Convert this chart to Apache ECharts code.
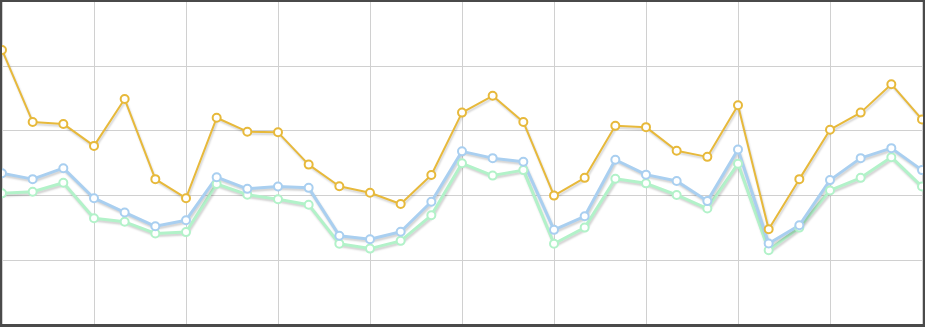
<!DOCTYPE html>
<html>
<head>
<meta charset="utf-8">
<script src="https://cdn.jsdelivr.net/npm/echarts@6/dist/echarts.min.js"></script>
<style>
html,body{margin:0;padding:0;background:#fff;}
#wrap{position:relative;width:925px;height:327px;}
#chart{position:absolute;left:0;top:0;width:925px;height:327px;}
#frame{position:absolute;left:0;top:0;width:925px;height:327px;box-sizing:border-box;border-style:solid;border-color:#4a4a4a;border-width:2px 2px 3px 2px;pointer-events:none;}
</style>
</head>
<body>
<div id="wrap"><div id="chart"></div><div id="frame"></div></div>
<script>
var categories = [];
for (var i = 1; i <= 31; i++) categories.push(String(i));

var seriesOrange = [85.0,62.7,62.1,55.3,69.8,45.0,39.1,64.0,59.7,59.5,49.5,42.8,40.8,37.3,46.3,65.6,70.8,62.7,39.9,45.4,61.5,61.1,53.8,51.9,67.9,29.5,45.0,60.3,65.6,74.4,63.5];
var seriesBlue = [46.8,45.0,48.4,39.1,34.7,30.4,32.3,45.6,42.0,42.7,42.3,27.5,26.4,28.7,38.0,53.6,51.5,50.4,29.3,33.5,51.0,46.4,44.4,38.2,54.2,25.1,30.7,44.7,51.5,54.6,47.8];
var seriesGreen = [40.6,41.1,43.9,32.9,31.8,28.2,28.6,43.5,40.2,38.8,37.1,25.0,23.5,25.9,33.8,49.9,46.1,47.8,25.0,30.0,45.1,43.7,40.1,35.9,49.8,23.0,30.0,41.5,45.4,51.8,42.7];

function mk(name, data, color, width) {
  return {
    name: name, type: 'line', data: data,
    symbol: 'circle', symbolSize: 8,
    itemStyle: { color: '#fff', borderColor: color, borderWidth: 2 },
    lineStyle: { color: color, width: width, shadowColor: 'rgba(0,0,0,0.18)', shadowBlur: 2, shadowOffsetY: 2, shadowOffsetX: 1 },
    emphasis: { disabled: true },
    animation: false
  };
}

var chart = echarts.init(document.getElementById('chart'), null, { renderer: 'canvas' });
chart.setOption({
  animation: false,
  grid: { left: 2, right: 3, top: 1.5, bottom: 2.5, containLabel: false },
  xAxis: {
    type: 'category', data: categories, boundaryGap: false,
    axisLine: { show: false }, axisTick: { show: false }, axisLabel: { show: false },
    splitLine: { show: true, interval: function (idx) { return idx % 3 === 0; }, lineStyle: { color: '#d0d0d0', width: 1 } }
  },
  yAxis: {
    type: 'value', min: 0, max: 100, interval: 20,
    axisLine: { show: false }, axisTick: { show: false }, axisLabel: { show: false },
    splitLine: { show: true, lineStyle: { color: '#d0d0d0', width: 1 } }
  },
  series: [
    mk('C', seriesGreen, '#b2f2c9', 3),
    mk('B', seriesBlue, '#a9cff0', 3),
    mk('A', seriesOrange, '#e7b93b', 2)
  ]
});
</script>
</body>
</html>
